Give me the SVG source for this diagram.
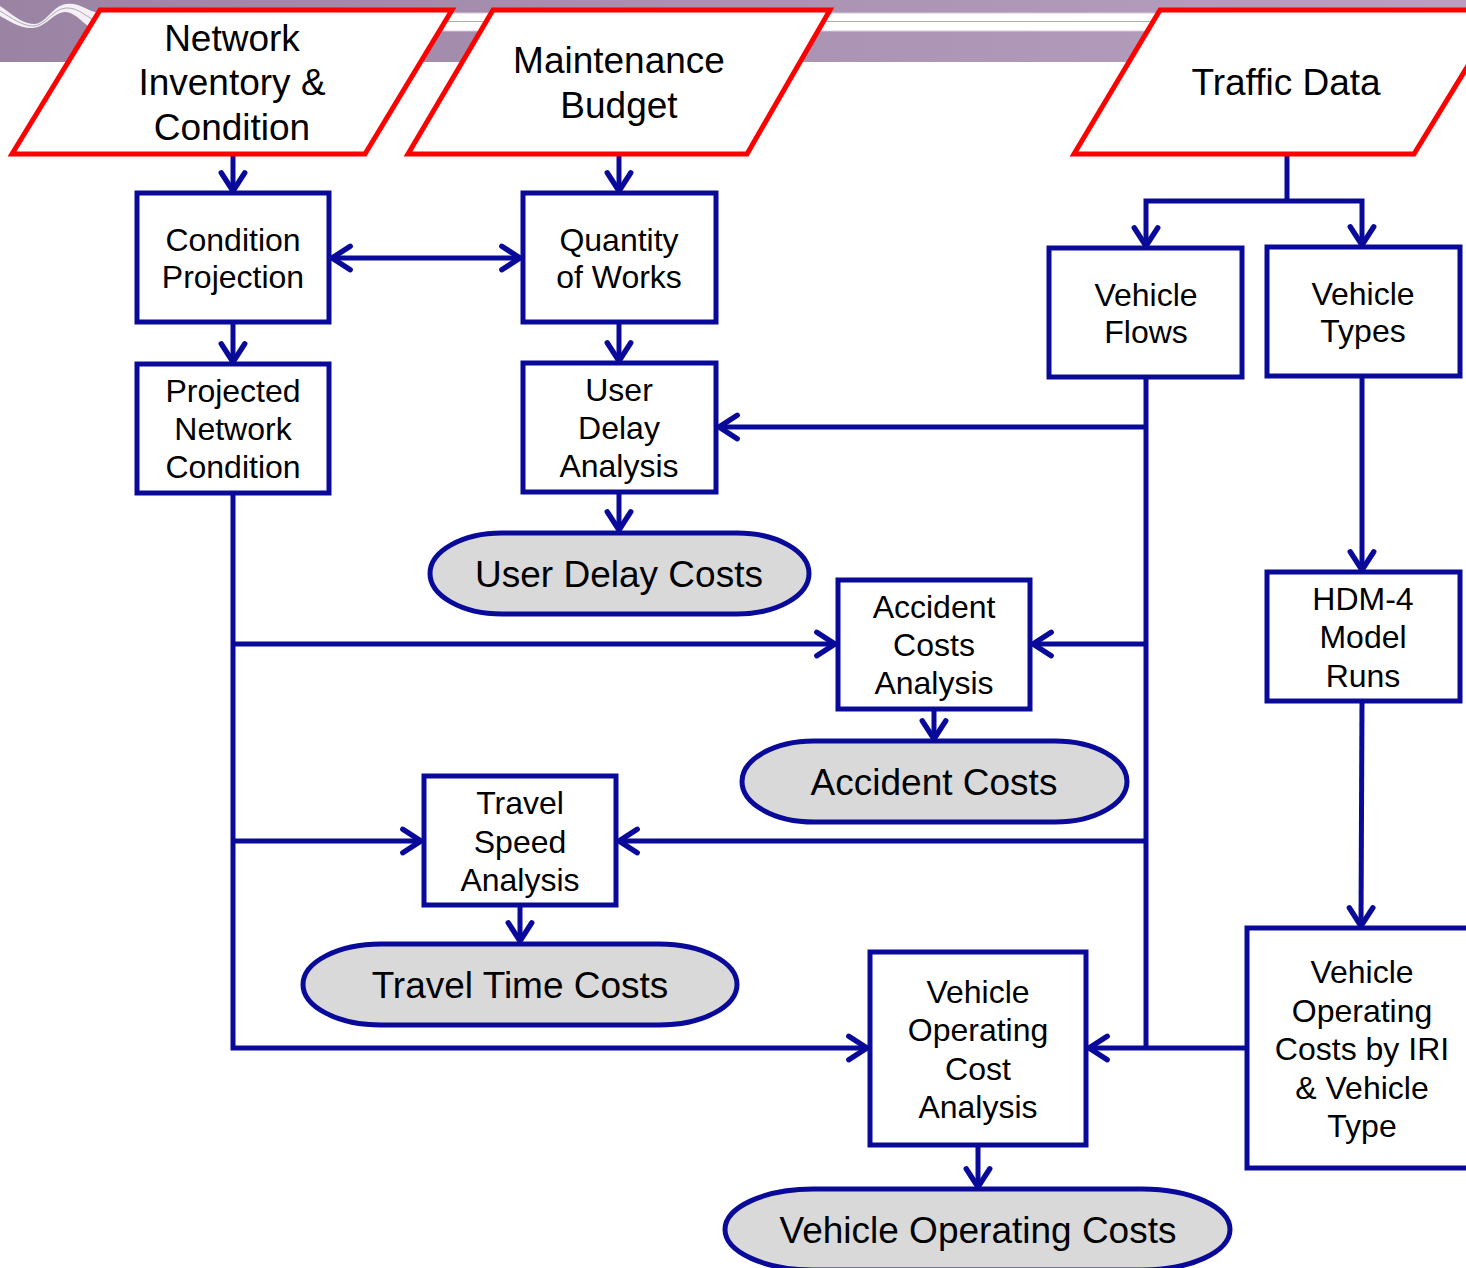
<svg xmlns="http://www.w3.org/2000/svg" width="1466" height="1268" viewBox="0 0 1466 1268">
  <defs>
    <linearGradient id="bannerFill" x1="0" y1="0" x2="1" y2="0">
      <stop offset="0" stop-color="#9b83a3"/>
      <stop offset="1" stop-color="#b7a0c0"/>
    </linearGradient>
    <marker id="arrow" markerUnits="userSpaceOnUse" markerWidth="30" markerHeight="30" viewBox="-22 -14 26 28" refX="0" refY="0" orient="auto-start-reverse">
      <path d="M-17,-11 L0,0 L-17,11" fill="none" stroke="#0a0a9a" stroke-width="5" stroke-linecap="round" stroke-linejoin="miter"/>
    </marker>
    <style>
      .input { fill: #ffffff; stroke: #ff0000; stroke-width: 5; }
      .proc { fill: #ffffff; stroke: #0a0a9a; stroke-width: 5; }
      .result { fill: #d9d9d9; stroke: #0a0a9a; stroke-width: 5; }
      .link { fill: none; stroke: #0a0a9a; stroke-width: 5; }
      text { font-family: "Liberation Sans", Arial, sans-serif; fill: #000000; text-anchor: middle; }
      .big { font-size: 37px; }
      .small { font-size: 32px; }
    </style>
  </defs>

  <!-- header banner -->
  <g id="banner">
    <rect x="0" y="0" width="1466" height="62" fill="url(#bannerFill)"/>
    <rect x="95" y="13" width="1371" height="18" fill="#ffffff"/>
    <line x1="95" y1="21.5" x2="1466" y2="21.5" stroke="#a8b0a0" stroke-width="1.2"/>
    <line x1="95" y1="13" x2="1466" y2="13" stroke="#d8c8dc" stroke-width="1"/>
    <line x1="95" y1="31" x2="1466" y2="31" stroke="#d8c8dc" stroke-width="1"/>
    <path d="M0,6 C12,14 22,24 34,24 C46,24 52,6 66,4 C80,2 88,12 100,13 L100,31 C86,30 80,14 66,12 C54,11 46,28 32,28 C18,28 8,20 0,16 Z" fill="#f4f0f6"/>
    <path d="M0,11 C12,18 22,26 33,26 C46,26 52,9 66,8 C80,7 88,20 100,22" fill="none" stroke="#b0a8b4" stroke-width="1"/>
  </g>

  <!-- connectors -->
  <g id="connectors">
    <line class="link" x1="233" y1="154" x2="233" y2="191" marker-end="url(#arrow)"/>
    <line class="link" x1="619" y1="154" x2="619" y2="191" marker-end="url(#arrow)"/>
    <line class="link" x1="332" y1="258" x2="520" y2="258" marker-start="url(#arrow)" marker-end="url(#arrow)"/>
    <line class="link" x1="233" y1="322" x2="233" y2="362" marker-end="url(#arrow)"/>
    <line class="link" x1="619" y1="322" x2="619" y2="361" marker-end="url(#arrow)"/>
    <line class="link" x1="619" y1="492" x2="619" y2="530" marker-end="url(#arrow)"/>
    <!-- traffic data split -->
    <polyline class="link" points="1287,154 1287,201"/>
    <polyline class="link" points="1146,246 1146,201 1362,201 1362,245" marker-start="url(#arrow)" marker-end="url(#arrow)"/>
    <!-- vehicle flows trunk -->
    <polyline class="link" points="1146,377 1146,1050"/>
    <line class="link" x1="1146" y1="427" x2="719" y2="427" marker-end="url(#arrow)"/>
    <line class="link" x1="1146" y1="644" x2="1033" y2="644" marker-end="url(#arrow)"/>
    <line class="link" x1="1146" y1="841" x2="619" y2="841" marker-end="url(#arrow)"/>
    <line class="link" x1="1246" y1="1048" x2="1089" y2="1048" marker-end="url(#arrow)"/>
    <!-- vehicle types chain -->
    <line class="link" x1="1362" y1="376" x2="1362" y2="570" marker-end="url(#arrow)"/>
    <line class="link" x1="1362" y1="701" x2="1361" y2="926" marker-end="url(#arrow)"/>
    <!-- projected condition trunk -->
    <polyline class="link" points="233,493 233,1048 867,1048" marker-end="url(#arrow)"/>
    <line class="link" x1="233" y1="644" x2="835" y2="644" marker-end="url(#arrow)"/>
    <line class="link" x1="233" y1="841" x2="421" y2="841" marker-end="url(#arrow)"/>
    <!-- results -->
    <line class="link" x1="934" y1="709" x2="934" y2="739" marker-end="url(#arrow)"/>
    <line class="link" x1="520" y1="905" x2="520" y2="941" marker-end="url(#arrow)"/>
    <line class="link" x1="978" y1="1145" x2="978" y2="1187" marker-end="url(#arrow)"/>
  </g>

  <!-- input data -->
  <g id="network-inventory">
    <polygon class="input" points="100,10 452,10 365,154 12,154"/>
    <text class="big" x="232" y="51">Network</text>
    <text class="big" x="232" y="95">Inventory &amp;</text>
    <text class="big" x="232" y="140">Condition</text>
  </g>
  <g id="maintenance-budget">
    <polygon class="input" points="493,10 830,10 747,154 408,154"/>
    <text class="big" x="619" y="73">Maintenance</text>
    <text class="big" x="619" y="118">Budget</text>
  </g>
  <g id="traffic-data">
    <polygon class="input" points="1160,10 1502,10 1414,154 1074,154"/>
    <text class="big" x="1286" y="95">Traffic Data</text>
  </g>

  <!-- processes -->
  <g id="condition-projection">
    <rect class="proc" x="137" y="193" width="192" height="129"/>
    <text class="small" x="233" y="251">Condition</text>
    <text class="small" x="233" y="288">Projection</text>
  </g>
  <g id="quantity-of-works">
    <rect class="proc" x="523" y="193" width="193" height="129"/>
    <text class="small" x="619" y="251">Quantity</text>
    <text class="small" x="619" y="288">of Works</text>
  </g>
  <g id="projected-network-condition">
    <rect class="proc" x="137" y="364" width="192" height="129"/>
    <text class="small" x="233" y="402">Projected</text>
    <text class="small" x="233" y="440">Network</text>
    <text class="small" x="233" y="478">Condition</text>
  </g>
  <g id="user-delay-analysis">
    <rect class="proc" x="523" y="363" width="193" height="129"/>
    <text class="small" x="619" y="401">User</text>
    <text class="small" x="619" y="439">Delay</text>
    <text class="small" x="619" y="477">Analysis</text>
  </g>
  <g id="vehicle-flows">
    <rect class="proc" x="1049" y="248" width="193" height="129"/>
    <text class="small" x="1146" y="306">Vehicle</text>
    <text class="small" x="1146" y="343">Flows</text>
  </g>
  <g id="vehicle-types">
    <rect class="proc" x="1267" y="247" width="193" height="129"/>
    <text class="small" x="1363" y="305">Vehicle</text>
    <text class="small" x="1363" y="342">Types</text>
  </g>
  <g id="accident-costs-analysis">
    <rect class="proc" x="838" y="580" width="192" height="129"/>
    <text class="small" x="934" y="618">Accident</text>
    <text class="small" x="934" y="656">Costs</text>
    <text class="small" x="934" y="694">Analysis</text>
  </g>
  <g id="hdm4-model-runs">
    <rect class="proc" x="1267" y="572" width="193" height="129"/>
    <text class="small" x="1363" y="610">HDM-4</text>
    <text class="small" x="1363" y="648">Model</text>
    <text class="small" x="1363" y="687">Runs</text>
  </g>
  <g id="travel-speed-analysis">
    <rect class="proc" x="424" y="776" width="192" height="129"/>
    <text class="small" x="520" y="814">Travel</text>
    <text class="small" x="520" y="853">Speed</text>
    <text class="small" x="520" y="891">Analysis</text>
  </g>
  <g id="voc-analysis">
    <rect class="proc" x="870" y="952" width="216" height="193"/>
    <text class="small" x="978" y="1003">Vehicle</text>
    <text class="small" x="978" y="1041">Operating</text>
    <text class="small" x="978" y="1080">Cost</text>
    <text class="small" x="978" y="1118">Analysis</text>
  </g>
  <g id="voc-by-iri">
    <rect class="proc" x="1247" y="928" width="240" height="240"/>
    <text class="small" x="1362" y="983">Vehicle</text>
    <text class="small" x="1362" y="1022">Operating</text>
    <text class="small" x="1362" y="1060">Costs by IRI</text>
    <text class="small" x="1362" y="1099">&amp; Vehicle</text>
    <text class="small" x="1362" y="1137">Type</text>
  </g>

  <!-- cost outputs -->
  <g id="user-delay-costs">
    <rect class="result" x="430" y="533" width="379" height="81" rx="72" ry="40.5"/>
    <text class="big" x="619" y="587">User Delay Costs</text>
  </g>
  <g id="accident-costs">
    <rect class="result" x="742" y="741" width="385" height="81" rx="72" ry="40.5"/>
    <text class="big" x="934" y="795">Accident Costs</text>
  </g>
  <g id="travel-time-costs">
    <rect class="result" x="303" y="944" width="434" height="81" rx="78" ry="40.5"/>
    <text class="big" x="520" y="998">Travel Time Costs</text>
  </g>
  <g id="vehicle-operating-costs">
    <rect class="result" x="725" y="1189" width="505" height="81" rx="88" ry="40.5"/>
    <text class="big" x="978" y="1243">Vehicle Operating Costs</text>
  </g>
</svg>
